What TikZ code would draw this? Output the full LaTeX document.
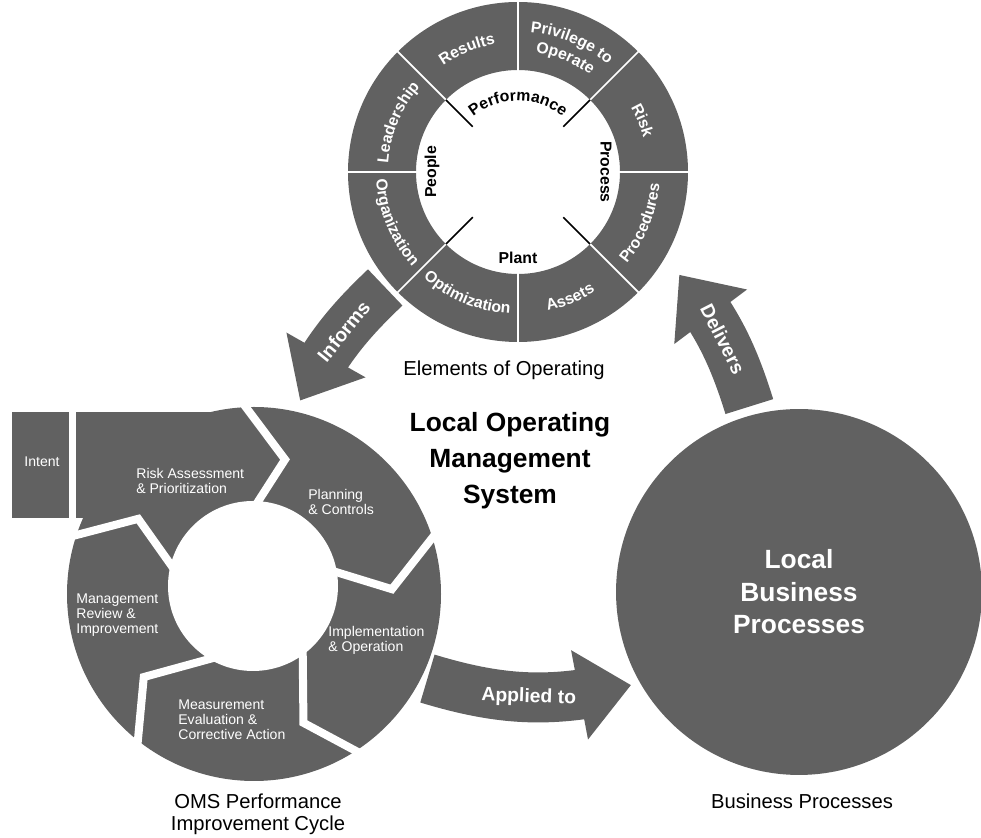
\documentclass[tikz,border=0pt]{standalone}
\usepackage{fontspec}
\setmainfont{Liberation Sans}
\usetikzlibrary{arrows.meta,bending,positioning,decorations.text}

\colorlet{halftone}{black!62}
\newcommand{\ringfont}{\fontsize{9}{10}\selectfont\bfseries}

\begin{document}
\begin{tikzpicture}[x=0.02cm, y=0.02cm,
  caption/.style={font=\fontsize{11.5}{12.5}\selectfont, align=center},
  steptext/.style={text=white, font=\fontsize{8}{8.6}\selectfont, align=left, anchor=west, inner sep=0pt},
  arrowtext/.style={text=white, font=\fontsize{11}{12}\selectfont\bfseries, sloped},
  bigarrow/.style={draw=halftone, line width=1cm, -{Triangle[length=1.05cm, width=1.75cm]}},
  gap/.style={white, line width=0.16cm, line join=miter},
  divider/.style={white, line width=0.035cm},
  ringtext/.style={decorate, decoration={text along path, text align=center, text color=white}},
]
  \useasboundingbox (0,0) rectangle (981,838);

  \node[circle, minimum size=6.8cm, outer sep=0.12cm] (ring) at (518,666) {};
  \node[circle, minimum size=7.48cm, outer sep=0.12cm] (cycle) at (254,244) {};
  \node[circle, fill=halftone, minimum size=7.32cm, outer sep=0.18cm, text=white,
        font=\fontsize{15}{18.5}\selectfont\bfseries, align=center] (biz) at (799,246)
        {Local\\Business\\Processes};

  % elements ring
  \begin{scope}[shift={(ring.center)}]
    \fill[halftone, even odd rule] (0,0) circle (170) circle (102);
    \foreach \a in {0,45,...,315}
      \draw[divider] (\a:101) -- (\a:171);
    \foreach \a in {45,135,225,315}
      \draw[line width=0.03cm] (\a:64) -- (\a:102);
    % upper half reads clockwise
    \path[ringtext, decoration={text={|\ringfont|Results}}] (135:130) arc[start angle=135, end angle=90, radius=130];
    \path[ringtext, decoration={text={|\ringfont|Privilege to}}] (90:140) arc[start angle=90, end angle=45, radius=140];
    \path[ringtext, decoration={text={|\ringfont|Operate}}] (90:121) arc[start angle=90, end angle=45, radius=121];
    \path[ringtext, decoration={text={|\ringfont|Risk}}] (45:130) arc[start angle=45, end angle=0, radius=130];
    \path[ringtext, decoration={text={|\ringfont|Leadership}}] (180:130) arc[start angle=180, end angle=135, radius=130];
    % lower half reads counterclockwise
    \path[ringtext, decoration={text={|\ringfont|Procedures}}] (-45:142) arc[start angle=-45, end angle=0, radius=142];
    \path[ringtext, decoration={text={|\ringfont|Assets}}] (-90:142) arc[start angle=-90, end angle=-45, radius=142];
    \path[ringtext, decoration={text={|\ringfont|Optimization}}] (-135:142) arc[start angle=-135, end angle=-90, radius=142];
    \path[ringtext, decoration={text={|\ringfont|Organization}}] (-180:142) arc[start angle=-180, end angle=-135, radius=142];
    % inner words
    \path[ringtext, decoration={text color=black, text={|\ringfont|Performance}}] (140:71) arc[start angle=140, end angle=40, radius=71];
    \node[rotate=90, font=\ringfont] (people) at (180:86) {People};
    \node[rotate=-90, font=\ringfont] (process) at (0:88) {Process};
    \node[font=\ringfont] (plant) at (-90:86) {Plant};
  \end{scope}
  \node[caption] (elemcap) at (504,468) {Elements of Operating};

  % performance improvement cycle
  \fill[halftone] (cycle.center) circle (187);
  \fill[halftone] (76,320) rectangle (228,426);
  \fill[halftone] (12,320) rectangle (69,426);
  \fill[white] (253,252) circle (85);
  \begin{scope}[shift={(cycle.center)}]
    \foreach \i/\t/\o in {99/77/95, 23/2/20, -46/-69/-55, -118/-143/-126, 172/147/164}
      \draw[gap] (\i:70) -- (\t:138) -- (\o:200);
  \end{scope}
  \node[steptext, anchor=center] (intent) at (42,376) {Intent};
  \node[steptext] (risk) at (136,357) {Risk Assessment\\\& Prioritization};
  \node[steptext] (plan) at (308,336) {Planning\\\& Controls};
  \node[steptext] (impl) at (328,198) {Implementation\\\& Operation};
  \node[steptext] (meas) at (178,118) {Measurement\\Evaluation \&\\Corrective Action};
  \node[steptext] (mgmt) at (76,223) {Management\\Review \&\\Improvement};
  \node[caption] (cyclecap) at (258,24) {OMS Performance\\Improvement Cycle};

  \node[caption] (bizcap) at (802,37) {Business Processes};
  \node[font=\fontsize{15}{20.5}\selectfont\bfseries, align=center] (loms) at (510,377)
    {Local Operating\\Management\\System};

  % flows between the three parts
  \draw[bigarrow, shorten >=0.12cm] (ring.-139) to[bend right=10]
    node[arrowtext, pos=0.4] {Informs} (cycle.77);
  \draw[bigarrow] (cycle.-26) to[bend right=15]
    node[arrowtext, pos=0.5] {Applied to} (biz.-151);
  \draw[bigarrow, shorten >=0.32cm] (biz.105) to[bend right=12]
    node[arrowtext, pos=0.43] {Delivers} (ring.-31);
\end{tikzpicture}
\end{document}
